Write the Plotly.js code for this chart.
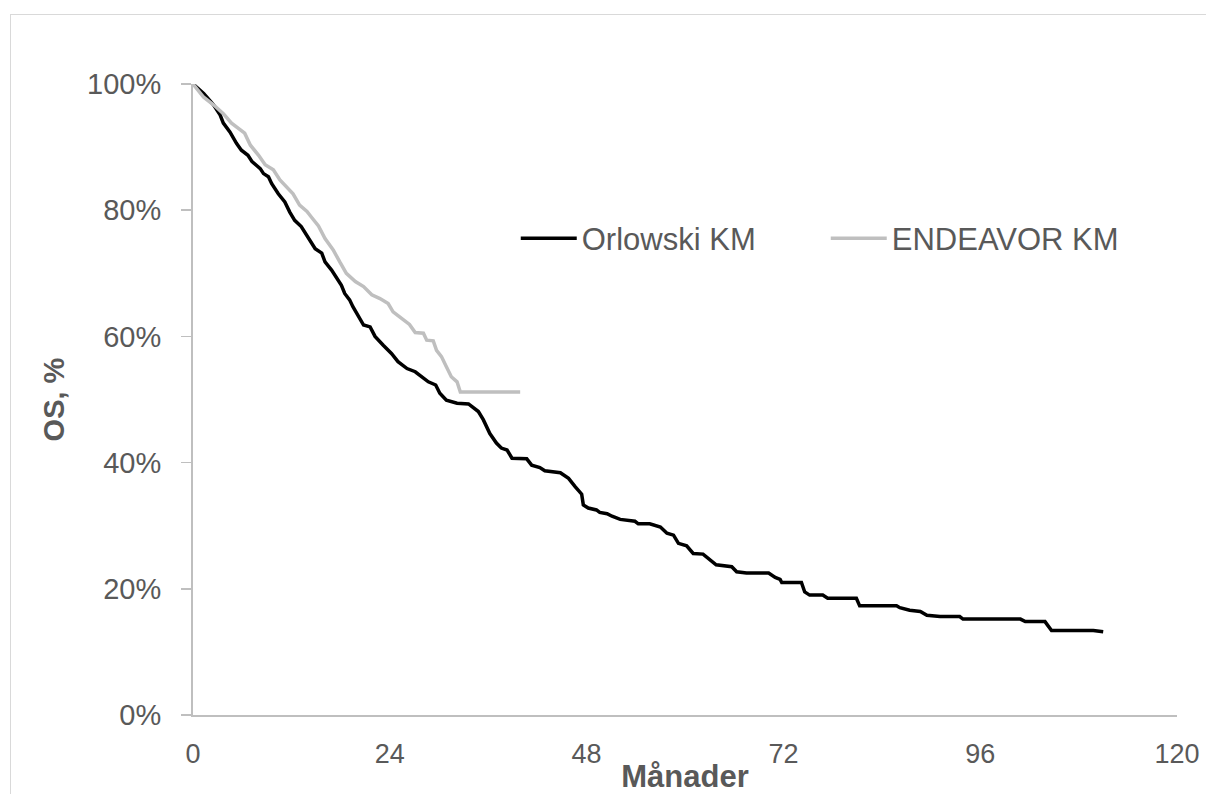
<!DOCTYPE html>
<html>
<head>
<meta charset="utf-8">
<script src="https://cdn.plot.ly/plotly-3.0.1.min.js"></script>
<style>
  html, body { margin: 0; padding: 0; background: #ffffff; }
  #frame { position: absolute; left: 0; top: 0; width: 1206px; height: 794px; overflow: hidden; }
  #border { position: absolute; left: 10px; top: 14px; width: 1300px; height: 900px;
            border-left: 1.5px solid #d9d9d9; border-top: 1.5px solid #d9d9d9; }
  #chart { position: absolute; left: 0; top: 0; width: 1206px; height: 794px; }
</style>
</head>
<body>
<div id="frame">
  <div id="border"></div>
  <div id="chart"></div>
</div>
<script>
// Kaplan-Meier overall survival, months vs. share alive
const orlowskiMonths = [0, 1.3, 2.5, 3.3, 3.7, 4.5, 5.3, 5.9, 6.7, 7.2, 8.2, 8.6, 9.2, 9.6, 10.4, 11.2, 11.8, 12.4, 13.2, 14.1,
  14.9, 15.7, 16.1, 16.9, 17.5, 18.1, 18.5, 19.1, 19.5, 20.2, 20.8, 21.6, 22.2, 23.2, 24.2, 25.0, 26.1, 27.1, 27.9, 28.7,
  29.6, 30.1, 30.9, 32.2, 33.6, 34.0, 34.8, 35.4, 36.2, 37.0, 37.6, 38.3, 38.9, 40.7, 41.3, 42.3, 42.9, 44.8, 45.8, 46.6,
  47.4, 47.6, 48.2, 49.2, 49.6, 50.5, 51.1, 52.1, 53.9, 54.3, 55.7, 57.0, 57.8, 58.6, 59.2, 60.2, 61.0, 62.2, 63.0, 63.8,
  65.7, 66.3, 67.5, 70.2, 71.0, 71.6, 71.8, 74.2, 74.6, 75.2, 76.8, 77.4, 80.9, 81.3, 85.8, 86.2, 87.4, 88.7, 89.5, 91.1,
  93.5, 93.9, 100.9, 101.5, 103.9, 104.7, 109.8, 111.0];
const orlowskiSurvival = [1.000, 0.985, 0.967, 0.951, 0.938, 0.924, 0.906, 0.895, 0.887, 0.877, 0.866, 0.858, 0.853, 0.842, 0.826, 0.813, 0.797, 0.784, 0.774, 0.756,
  0.739, 0.732, 0.718, 0.705, 0.692, 0.681, 0.668, 0.658, 0.647, 0.631, 0.618, 0.615, 0.600, 0.586, 0.573, 0.560, 0.549, 0.544, 0.536, 0.528,
  0.523, 0.510, 0.499, 0.494, 0.493, 0.489, 0.481, 0.468, 0.446, 0.431, 0.423, 0.420, 0.407, 0.406, 0.396, 0.392, 0.387, 0.384, 0.375, 0.362,
  0.350, 0.333, 0.328, 0.325, 0.321, 0.319, 0.315, 0.310, 0.307, 0.303, 0.303, 0.298, 0.288, 0.285, 0.272, 0.268, 0.256, 0.255, 0.246, 0.238,
  0.235, 0.227, 0.225, 0.225, 0.218, 0.215, 0.210, 0.210, 0.195, 0.190, 0.190, 0.185, 0.185, 0.173, 0.173, 0.170, 0.166, 0.164, 0.158, 0.156,
  0.156, 0.152, 0.152, 0.148, 0.148, 0.134, 0.134, 0.132];

const endeavorMonths = [0, 1.3, 2.5, 3.7, 4.7, 5.7, 6.3, 7.0, 8.0, 8.8, 9.8, 10.6, 11.4, 12.2, 13.0, 13.9, 14.5, 15.3, 16.1, 17.1,
  17.9, 18.7, 19.8, 20.8, 21.8, 22.8, 23.8, 24.4, 25.2, 26.4, 27.1, 28.1, 28.5, 29.3, 29.7, 30.3, 30.9, 31.5, 32.2, 32.6, 39.9];
const endeavorSurvival = [1.000, 0.979, 0.967, 0.953, 0.938, 0.927, 0.922, 0.903, 0.887, 0.872, 0.864, 0.848, 0.837, 0.826, 0.808, 0.798, 0.788, 0.775, 0.755, 0.737,
  0.718, 0.700, 0.687, 0.679, 0.666, 0.660, 0.652, 0.639, 0.631, 0.619, 0.606, 0.605, 0.594, 0.593, 0.578, 0.568, 0.552, 0.536, 0.528, 0.512, 0.512];

const seriesNames = ["Orlowski KM", "ENDEAVOR KM"];
const xTickValues = [0, 24, 48, 72, 96, 120];
const yTickValues = [0, 0.2, 0.4, 0.6, 0.8, 1.0];

const textColor = "#595959";
const axisColor = "#bfbfbf";
const fontFamily = "'Liberation Sans', Arial, sans-serif";

const traces = [
  {
    x: orlowskiMonths, y: orlowskiSurvival, name: seriesNames[0],
    type: "scatter", mode: "lines",
    line: { color: "#000000", width: 3.5 }
  },
  {
    x: endeavorMonths, y: endeavorSurvival, name: seriesNames[1],
    type: "scatter", mode: "lines",
    line: { color: "#bfbfbf", width: 3.5 }
  }
];

const layout = {
  width: 1206, height: 794,
  paper_bgcolor: "rgba(0,0,0,0)",
  plot_bgcolor: "rgba(0,0,0,0)",
  margin: { l: 193, r: 29, t: 84, b: 79, pad: 0 },
  font: { family: fontFamily, color: textColor, size: 27 },
  showlegend: true,
  legend: {
    orientation: "h",
    x: 0.328, xanchor: "left",
    y: 0.755, yanchor: "middle",
    font: { family: fontFamily, color: textColor, size: 31 },
    bgcolor: "rgba(0,0,0,0)",
    entrywidth: 239, entrywidthmode: "pixels",
    itemwidth: 56
  },
  xaxis: {
    range: [0, 120],
    tickvals: xTickValues,
    ticktext: xTickValues.map(String),
    showgrid: false, zeroline: false,
    showline: true, linecolor: axisColor, linewidth: 2,
    ticks: "", ticklabelstandoff: 14,
    tickfont: { family: fontFamily, color: textColor, size: 27 },
    title: { text: "Månader", font: { family: fontFamily, color: textColor, size: 31, weight: "bold" }, standoff: 0 },
    fixedrange: true
  },
  yaxis: {
    range: [0, 1],
    tickvals: yTickValues,
    tickformat: ".0%",
    showgrid: false, zeroline: false,
    showline: true, linecolor: axisColor, linewidth: 2,
    ticks: "outside", ticklen: 10, tickwidth: 1.5, tickcolor: axisColor,
    ticklabelstandoff: 14,
    tickfont: { family: fontFamily, color: textColor, size: 29 },
    title: { text: "OS, %", font: { family: fontFamily, color: textColor, size: 29, weight: "bold" }, standoff: 14 },
    fixedrange: true
  }
};

Plotly.newPlot("chart", traces, layout, { displayModeBar: false, staticPlot: true });
</script>
</body>
</html>
